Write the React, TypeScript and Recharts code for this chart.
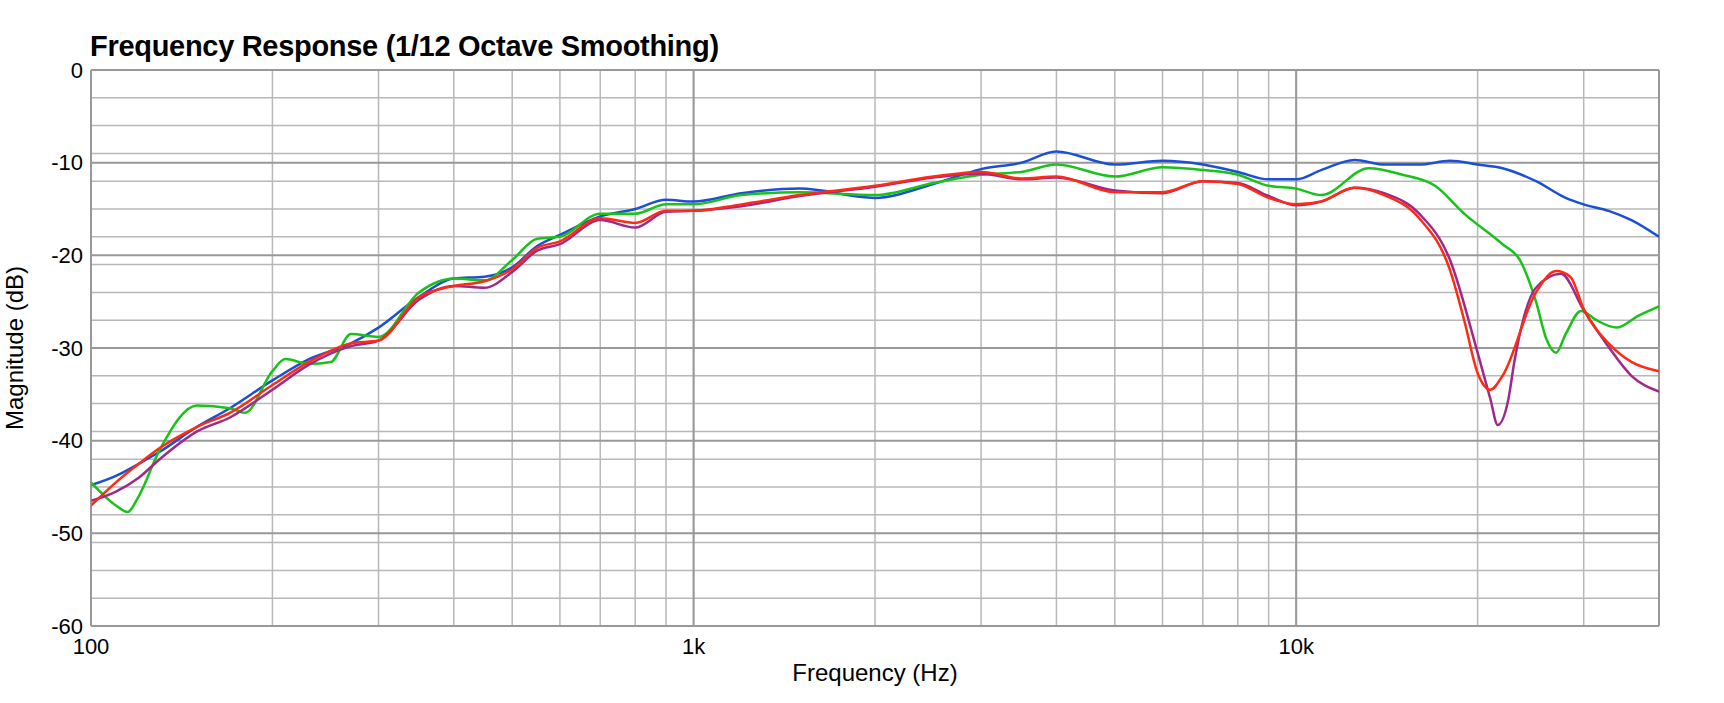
import React from 'react';
import {
  LineChart,
  Line,
  XAxis,
  YAxis,
  CartesianGrid,
  ReferenceLine,
} from 'recharts';

const blueFreq = [100, 110, 120, 130, 150, 170, 200, 230, 270, 300, 350, 400, 450, 500, 550, 600, 700, 800, 900, 1000, 1200, 1500, 2000, 2500, 3000, 3500, 4000, 5000, 6000, 7000, 8000, 9000, 10000, 11000, 12500, 14000, 16000, 18000, 20000, 22000, 25000, 28000, 30000, 33000, 36000, 40000];
const blueDb = [-44.8, -43.8, -42.5, -41.2, -38.5, -36.5, -33.5, -31.2, -29.5, -27.8, -24.5, -22.5, -22.3, -21.3, -19, -17.8, -15.8, -15, -14, -14.2, -13.3, -12.8, -13.8, -12.3, -10.7, -10, -8.8, -10.2, -9.8, -10.2, -11, -11.8, -11.8, -10.8, -9.7, -10.2, -10.2, -9.8, -10.2, -10.6, -12, -13.8, -14.5, -15.2, -16.2, -18];

const greenFreq = [100, 110, 115, 120, 130, 150, 170, 180, 200, 210, 230, 250, 270, 300, 350, 400, 450, 500, 550, 600, 700, 800, 900, 1000, 1200, 1500, 2000, 2500, 3000, 3500, 4000, 5000, 6000, 7000, 8000, 9000, 10000, 11000, 13200, 15000, 17000, 19000, 22000, 23500, 25000, 26000, 27000, 28000, 29700, 31500, 34000, 37000, 40000];
const greenDb = [-44.5, -47, -47.7, -46, -41, -36.2, -36.5, -37, -32.5, -31.2, -31.7, -31.5, -28.5, -28.8, -24, -22.5, -22.7, -20.5, -18.2, -18, -15.5, -15.5, -14.5, -14.5, -13.5, -13.2, -13.5, -12.2, -11.3, -11, -10.2, -11.5, -10.5, -10.8, -11.3, -12.5, -12.8, -13.5, -10.6, -11.3, -12.5, -15.5, -18.8, -20.5, -25, -29, -30.5, -28.5, -26, -27, -27.8, -26.5, -25.5];

const redFreq = [100, 110, 120, 130, 150, 170, 200, 230, 270, 300, 350, 400, 450, 500, 550, 600, 700, 800, 900, 1000, 1200, 1500, 2000, 2500, 3000, 3500, 4000, 5000, 6000, 7000, 8000, 9000, 10000, 11000, 12500, 14000, 16000, 18000, 19000, 20000, 21000, 22000, 25000, 27000, 28500, 30000, 33000, 36000, 40000];
const redDb = [-47, -44.5, -42.5, -40.8, -38.5, -37, -34, -31.5, -29.5, -29.2, -24.5, -23.3, -22.8, -21.5, -19.2, -18.5, -16, -16.5, -15.2, -15.2, -14.5, -13.5, -12.5, -11.5, -11, -11.7, -11.5, -13.2, -13.2, -12, -12.3, -13.8, -14.5, -14.2, -12.7, -13.5, -16, -21.6, -27, -32.7, -34.5, -33, -24, -21.7, -22.3, -25.8, -29.5, -31.5, -32.5];

const purpleFreq = [100, 110, 120, 130, 150, 170, 200, 230, 270, 300, 350, 400, 450, 500, 550, 600, 700, 800, 900, 1000, 1200, 1500, 2000, 2500, 3000, 3500, 4000, 5000, 6000, 7000, 8000, 9000, 10000, 11000, 12500, 14000, 16000, 18000, 20000, 21000, 21600, 22500, 23000, 25000, 27500, 30000, 33000, 36000, 40000];
const purpleDb = [-46.5, -45.5, -44, -42, -39, -37.5, -34.5, -31.8, -29.8, -29.2, -24.8, -23.3, -23.5, -21.8, -19.5, -18.8, -16.2, -17, -15.3, -15.2, -14.7, -13.6, -12.6, -11.6, -11.2, -11.8, -11.6, -13, -13.3, -12, -12.2, -13.6, -14.6, -14.2, -12.7, -13.3, -15.5, -20.5, -30.5, -35.5, -38.3, -35.5, -31.6, -23.5, -22, -25.9, -29.9, -33, -34.7];

const yTicks = [0, -10, -20, -30, -40, -50, -60];
const xTicks = [100, 1000, 10000];
const xTickLabels: Record<number, string> = { 100: '100', 1000: '1k', 10000: '10k' };

const zip = (f: number[], v: number[]) => f.map((x, i) => ({ f: x, db: v[i] }));

const minorY: number[] = [];
for (let d = 0; d >= -60; d--) minorY.push(d);
const minorX: number[] = [];
for (const base of [100, 1000, 10000]) {
  for (let m = 1; m <= 9; m++) if (base * m <= 40000) minorX.push(base * m);
}
minorX.push(40000);

const font = '"Liberation Sans", Arial, sans-serif';

export default function App() {
  return (
    <div style={{ position: 'absolute', left: 0, top: 0, width: 1724, height: 703, fontFamily: font }}>
      <div style={{ position: 'absolute', left: 90, top: 30, fontSize: 29, fontWeight: 'bold', color: '#000', letterSpacing: -0.3 }}>
        Frequency Response (1/12 Octave Smoothing)
      </div>
      <LineChart width={1724} height={703} margin={{ top: 70, right: 65, left: 0, bottom: 0 }}>
        <CartesianGrid
          stroke="#b8b8b8"
          strokeWidth={1.5}
          horizontalValues={minorY}
          verticalValues={minorX}
        />
        {yTicks.map((t) => (
          <ReferenceLine key={'y' + t} y={t} stroke="#999" strokeWidth={2} />
        ))}
        {xTicks.map((t) => (
          <ReferenceLine key={'x' + t} x={t} stroke="#999" strokeWidth={2} />
        ))}
        <ReferenceLine x={40000} stroke="#999" strokeWidth={2} />
        <XAxis
          dataKey="f"
          type="number"
          scale="log"
          domain={[100, 40000]}
          ticks={xTicks}
          tickFormatter={(v: number) => xTickLabels[v]}
          allowDataOverflow
          height={77}
          stroke="#999"
          tickLine={false}
          tick={{ fill: '#000', fontSize: 22, fontFamily: font, dy: 4 }}
          label={{ value: 'Frequency (Hz)', position: 'insideBottom', offset: 22, fill: '#000', fontSize: 24, fontFamily: font }}
        />
        <YAxis
          type="number"
          domain={[-60, 0]}
          ticks={yTicks}
          width={91}
          stroke="#999"
          tickLine={false}
          tick={{ fill: '#000', fontSize: 22, fontFamily: font }}
          label={{ value: 'Magnitude (dB)', angle: -90, position: 'insideLeft', offset: 14, fill: '#000', fontSize: 24, fontFamily: font, style: { textAnchor: 'middle' } }}
        />
        <Line data={zip(blueFreq, blueDb)} dataKey="db" stroke="#1a4fd6" strokeWidth={2.5} dot={false} type="monotone" isAnimationActive={false} />
        <Line data={zip(greenFreq, greenDb)} dataKey="db" stroke="#19c219" strokeWidth={2.5} dot={false} type="monotone" isAnimationActive={false} />
        <Line data={zip(purpleFreq, purpleDb)} dataKey="db" stroke="#a0288a" strokeWidth={2.5} dot={false} type="monotone" isAnimationActive={false} />
        <Line data={zip(redFreq, redDb)} dataKey="db" stroke="#ff2a12" strokeWidth={2.5} dot={false} type="monotone" isAnimationActive={false} />
      </LineChart>
    </div>
  );
}
